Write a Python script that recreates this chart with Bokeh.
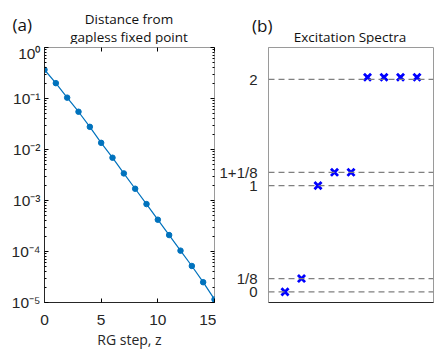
from bokeh.plotting import figure
from bokeh.models import (FixedTicker, LogAxis, LinearAxis, Span, Range1d,
                          CustomJSTickFormatter)
from bokeh.core.properties import value
from bokeh.layouts import row, column
from bokeh.embed import file_html
from bokeh.resources import INLINE

# ---- Panel (a) data ----
rg_step = list(range(16))
distance = [0.366, 0.20, 0.104, 0.055, 0.0278, 0.0135, 0.0069, 0.0034,
            0.0017, 8.5e-4, 4.2e-4, 2.1e-4, 1.04e-4, 5.2e-5, 2.5e-5, 1.15e-5]
x_ticks_a = [0, 5, 10, 15]
y_ticks_a = [1e-5, 1e-4, 1e-3, 1e-2, 1e-1, 1.0]
y_tick_labels_a = ["10\u207b\u2075", "10\u207b\u2074", "10\u207b\u00b3",
                   "10\u207b\u00b2", "10\u207b\u00b9", "10\u2070"]

# ---- Panel (b) data ----
state_index = [1, 2, 3, 4, 5, 6, 7, 8, 9]
energy = [0.0, 0.125, 1.0, 1.125, 1.125, 2.02, 2.02, 2.02, 2.02]
levels = [0.0, 0.125, 1.0, 1.125, 2.0]
level_labels = ["0", "1/8", "1", "1+1/8", "2"]

TICK_FONT = "Liberation Sans"
TEXT_FONT = "Open Sans"
FRAME_GRAY = "#9a9a9a"
BLANK = "return ''"
HEADER_H = 44
FRAME_TOP = 47

# ---- Header strip holding panel letters and titles (pixel coordinates) ----
hdr = figure(width=436, height=HEADER_H, x_range=Range1d(0, 436),
             y_range=Range1d(HEADER_H, 0), output_backend="svg",
             toolbar_location=None, x_axis_location=None,
             y_axis_location=None, min_border=0)
hdr.xgrid.visible = False
hdr.ygrid.visible = False
hdr.outline_line_color = None
hdr.text(x=[12, 251.5], y=[23.5, 25], text=["(a)", "(b)"],
         text_font=value(TEXT_FONT), text_font_size="17px",
         text_baseline="middle", text_align="left", text_color="#111111")
hdr.text(x=[128.5, 128.5, 349.5], y=[18.8, 36.2, 36.0],
         text=["Distance from", "gapless fixed point", "Excitation Spectra"],
         text_font=value(TEXT_FONT), text_font_size="13.5px",
         text_baseline="middle", text_align="center", text_color="#111111")

minor_a = [k * 10.0 ** e for e in range(-5, 0) for k in range(2, 10)]
yticker_a = FixedTicker(ticks=y_ticks_a, minor_ticks=minor_a)
xticker_a = FixedTicker(ticks=x_ticks_a)

H = 357 - HEADER_H
TOP_B = FRAME_TOP - HEADER_H
p = figure(width=216, height=H, y_axis_type="log", x_range=(0, 15),
           y_range=(1e-5, 1), output_backend="svg", toolbar_location=None,
           min_border_left=44, min_border_right=2, min_border_top=TOP_B,
           min_border_bottom=55)
p.xgrid.visible = False
p.ygrid.visible = False
p.outline_line_color = FRAME_GRAY

p.line(rg_step, distance, line_color="#0072BD", line_width=1.2)
p.scatter(rg_step, distance, marker="circle", size=5.5, fill_color="#0072BD",
          line_color="#0072BD")

for ax in p.yaxis:
    ax.ticker = yticker_a
    ax.major_label_overrides = dict(zip(y_ticks_a, y_tick_labels_a))
    ax.major_tick_in = 4
    ax.major_tick_out = 0
    ax.minor_tick_in = 2
    ax.minor_tick_out = 0
    ax.major_label_standoff = 4
    ax.major_label_text_font = TICK_FONT
    ax.major_label_text_font_size = "15.5px"
    ax.major_label_text_color = "#262626"
    ax.axis_line_color = "#262626"
for ax in p.xaxis:
    ax.ticker = xticker_a
    ax.major_tick_in = 4
    ax.major_tick_out = 0
    ax.minor_tick_line_color = None
    ax.major_label_standoff = 12
    ax.major_label_text_font = TICK_FONT
    ax.major_label_text_font_size = "15.5px"
    ax.major_label_text_color = "#262626"
    ax.axis_line_color = "#262626"
    ax.axis_label = "RG step, z"
    ax.axis_label_text_font = TEXT_FONT
    ax.axis_label_text_font_size = "14px"
    ax.axis_label_text_font_style = "normal"
    ax.axis_label_text_color = "#262626"
    ax.axis_label_standoff = 2

right_ax = LogAxis(ticker=yticker_a, major_tick_in=4, major_tick_out=0,
                   minor_tick_in=2, minor_tick_out=0, axis_line_color=None,
                   formatter=CustomJSTickFormatter(code=BLANK),
                   major_label_standoff=0)
p.add_layout(right_ax, "right")
top_ax = LinearAxis(ticker=xticker_a, major_tick_in=4, major_tick_out=0,
                    minor_tick_in=0, minor_tick_out=0,
                    minor_tick_line_color=None, axis_line_color=None,
                    formatter=CustomJSTickFormatter(code=BLANK),
                    major_label_text_font_size="1px",
                    major_label_standoff=0, axis_label_standoff=0)
p.add_layout(top_ax, "above")

# ---- Panel (b) ----
p2 = figure(width=220, height=H, x_range=(0, 10), y_range=(-0.1, 2.3),
            output_backend="svg", toolbar_location=None,
            min_border_left=46, min_border_right=3, min_border_top=TOP_B,
            min_border_bottom=55)
p2.xgrid.visible = False
p2.ygrid.visible = False
p2.outline_line_color = FRAME_GRAY

for lv in levels:
    p2.add_layout(Span(location=lv, dimension="width", line_color="#808080",
                       line_dash="6 4", line_width=1.3))

p2.scatter(state_index, energy, marker="x", size=10, line_color="#0000FF",
           line_width=2.8)

for ax in p2.yaxis:
    ax.ticker = FixedTicker(ticks=levels)
    ax.major_label_overrides = dict(zip(levels, level_labels))
    ax.major_tick_line_color = None
    ax.minor_tick_line_color = None
    ax.major_label_standoff = 5
    ax.major_label_text_font = TICK_FONT
    ax.major_label_text_font_size = "15px"
    ax.major_label_text_color = "#262626"
    ax.axis_line_color = FRAME_GRAY
for ax in p2.xaxis:
    ax.ticker = FixedTicker(ticks=[5])
    ax.formatter = CustomJSTickFormatter(code=BLANK)
    ax.major_tick_line_color = None
    ax.minor_tick_line_color = None
    ax.axis_line_color = "#262626"

layout = column(hdr, row(p, p2, spacing=0), spacing=0)
open("out.html", "w").write(file_html(layout, INLINE))
